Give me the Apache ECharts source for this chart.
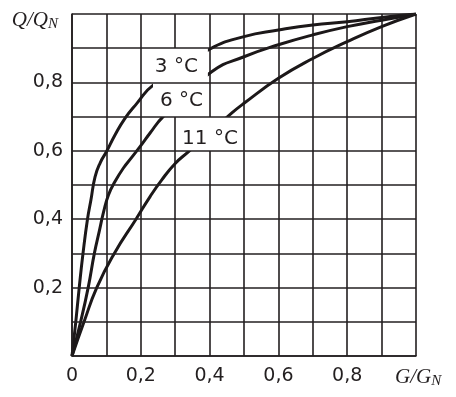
<!DOCTYPE html>
<html>
<head>
<meta charset="utf-8">
<script src="https://cdn.jsdelivr.net/npm/echarts@6/dist/echarts.min.js"></script>
<style>
html,body{margin:0;padding:0;background:#fff;}
#chart{width:456px;height:397px;}
</style>
</head>
<body>
<div id="chart"></div>
<script>
// ---- data ----
const G_3C  = [0, 0.011, 0.021, 0.032, 0.045, 0.055, 0.067, 0.082, 0.1, 0.125, 0.154, 0.188, 0.236, 0.4, 0.5, 0.6, 0.7, 0.8, 0.9, 1];
const Q_3C  = [0, 0.1, 0.2, 0.3, 0.4, 0.456, 0.524, 0.565, 0.597, 0.646, 0.695, 0.738, 0.792, 0.897, 0.934, 0.953, 0.968, 0.977, 0.99, 1];
const G_6C  = [0, 0.025, 0.047, 0.065, 0.08, 0.092, 0.106, 0.125, 0.149, 0.173, 0.2, 0.227, 0.265, 0.406, 0.5, 0.6, 0.7, 0.8, 0.9, 1];
const Q_6C  = [0, 0.1, 0.2, 0.3, 0.368, 0.422, 0.471, 0.51, 0.549, 0.58, 0.615, 0.652, 0.7, 0.831, 0.875, 0.91, 0.939, 0.963, 0.982, 1];
const G_11C = [0, 0.035, 0.072, 0.123, 0.186, 0.227, 0.261, 0.3, 0.338, 0.464, 0.5, 0.6, 0.7, 0.8, 0.9, 1];
const Q_11C = [0, 0.1, 0.2, 0.3, 0.4, 0.466, 0.515, 0.563, 0.597, 0.71, 0.739, 0.812, 0.87, 0.919, 0.963, 1];

const curveNames = ['3 °C', '6 °C', '11 °C'];
// centres of the white label boxes (data units)
const labelG = [0.302, 0.3154, 0.3997];
const labelQ = [0.8494, 0.75, 0.6491];

const xTickValues = [0, 0.2, 0.4, 0.6, 0.8];
const xTickLabels = ['0', '0,2', '0,4', '0,6', '0,8'];
const yTickValues = [0.2, 0.4, 0.6, 0.8];
const yTickLabels = ['0,2', '0,4', '0,6', '0,8'];

// ---- styles ----
const INK = '#231f20';
const boxSize = [[64, 35], [55, 35], [65, 34]];
const textOffset = [[0.5, 1], [1, 1.5], [0.5, 4.5]];

function pairs(xs, ys) { return xs.map((x, i) => [x, ys[i]]); }
function tickFmt(vals, labs) {
  return function (v) {
    for (let i = 0; i < vals.length; i++) if (Math.abs(v - vals[i]) < 1e-6) return labs[i];
    return '';
  };
}

const curves = [pairs(G_3C, Q_3C), pairs(G_6C, Q_6C), pairs(G_11C, Q_11C)];

const chart = echarts.init(document.getElementById('chart'), null, {renderer: 'canvas'});
const nameRich = {
  a: {fontFamily: 'Liberation Serif', fontStyle: 'italic', fontSize: 21, color: INK, lineHeight: 22},
  b: {fontFamily: 'Liberation Serif', fontStyle: 'italic', fontSize: 15, color: INK, lineHeight: 22, padding: [9, 0, 0, 0]}
};

const option = {
  animation: false,
  backgroundColor: '#fff',
  grid: {left: 72, right: 40, top: 14, bottom: 41, containLabel: false},
  xAxis: {
    type: 'value', min: 0, max: 1, interval: 0.1, z: 0,
    axisLine: {show: true, onZero: false, lineStyle: {color: INK, width: 1.6}},
    axisTick: {show: false},
    splitLine: {show: true, lineStyle: {color: INK, width: 1.6}},
    axisLabel: {formatter: tickFmt(xTickValues, xTickLabels), fontFamily: 'DejaVu Sans', fontSize: 19, color: INK, margin: 11, showMaxLabel: true},
    name: '{a|G/G}{b|N}',
    nameLocation: 'end',
    nameGap: -21,
    nameTextStyle: {align: 'left', verticalAlign: 'top', padding: [10, 0, 0, 0], rich: nameRich}
  },
  yAxis: {
    type: 'value', min: 0, max: 1, interval: 0.1, z: 10,
    axisLine: {show: true, onZero: false, lineStyle: {color: INK, width: 1.6}},
    axisTick: {show: false},
    splitLine: {show: true, lineStyle: {color: INK, width: 1.6}},
    axisLabel: {formatter: tickFmt(yTickValues, yTickLabels), fontFamily: 'DejaVu Sans', fontSize: 19, color: INK, margin: 9},
    name: '{a|Q/Q}{b|N}',
    nameLocation: 'end',
    nameGap: -6,
    nameTextStyle: {align: 'right', verticalAlign: 'middle', padding: [0, 14, 0, 0], rich: nameRich}
  },
  series: curves.map((d, i) => ({
    type: 'line',
    name: curveNames[i],
    data: d,
    z: 2,
    smooth: 0.5,
    showSymbol: false,
    symbol: 'none',
    lineStyle: {color: '#1c1819', width: 3},
    silent: true
  })).concat([{
    type: 'scatter',
    z: 5,
    symbol: 'rect',
    silent: true,
    itemStyle: {color: '#ffffff', opacity: 1},
    data: labelG.map((g, i) => ({
      value: [g, labelQ[i]],
      symbolSize: boxSize[i],
      label: {
        show: true, position: 'inside', offset: textOffset[i], formatter: curveNames[i],
        fontFamily: 'DejaVu Sans', fontSize: 20, lineHeight: 20, color: INK
      }
    }))
  }])
};
chart.setOption(option);
</script>
</body>
</html>
